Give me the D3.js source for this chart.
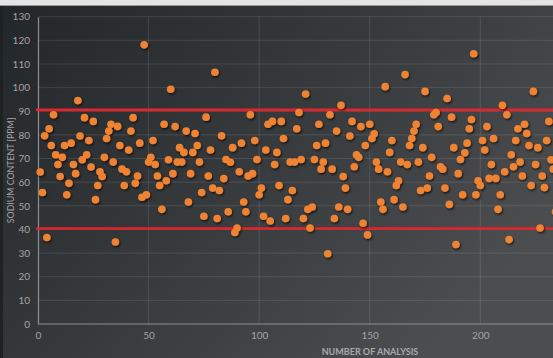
<!DOCTYPE html>
<html>
<head>
<meta charset="utf-8">
<script src="https://cdnjs.cloudflare.com/ajax/libs/d3/7.8.5/d3.min.js"></script>
<style>
  html, body { margin: 0; padding: 0; background: #2b2e31; }
  svg { display: block; }
</style>
</head>
<body>
<svg id="chart" width="553" height="358"></svg>
<script>
// Sodium content per analysis (ppm), analysis number = index + 1
const sodium = [
  64.3, 55.6, 79.6, 36.6, 82.6, 75.5, 88.5, 71.6, 67.5, 62.4,
  70.5, 75.5, 54.7, 59.5, 76.5, 67.5, 63.6, 94.5, 79.5, 69.5,
  87.3, 71.6, 77.6, 66.4, 85.7, 52.6, 58.6, 64.4, 62.4, 70.5,
  78.5, 81.6, 84.5, 68.5, 34.7, 83.6, 75.5, 65.5, 58.6, 64.4,
  73.6, 81.6, 87.3, 59.5, 62.6, 76.5, 53.6, 118.1, 54.7, 68.5,
  70.5, 77.6, 67.5, 62.6, 58.6, 48.5, 84.5, 60.6, 69.5, 99.3,
  63.6, 83.5, 68.5, 74.6, 68.5, 72.6, 81.6, 51.6, 63.6, 72.6,
  80.6, 75.5, 68.5, 55.6, 45.6, 87.5, 62.6, 73.6, 57.5, 106.5,
  44.6, 56.5, 79.6, 61.5, 69.6, 47.5, 68.4, 74.6, 38.7, 40.6,
  64.4, 76.5, 51.6, 47.5, 62.6, 88.5, 63.6, 77.6, 69.6, 54.7,
  57.5, 45.6, 73.6, 84.5, 43.6, 85.7, 67.5, 72.6, 58.6, 85.7,
  78.5, 44.6, 52.6, 68.5, 56.5, 68.5, 82.6, 89.5, 69.6, 44.6,
  97.3, 48.5, 40.6, 49.5, 69.6, 75.5, 84.5, 65.5, 68.5, 76.5,
  29.7, 88.5, 65.5, 44.6, 81.6, 49.5, 92.5, 62.4, 57.5, 48.5,
  79.5, 85.7, 66.5, 71.6, 70.5, 83.5, 42.6, 75.5, 37.7, 84.5,
  78.5, 80.5, 68.5, 65.5, 51.6, 48.5, 100.4, 64.4, 72.6, 77.6,
  52.6, 58.6, 60.6, 68.5, 49.5, 105.5, 67.5, 75.5, 78.5, 81.6,
  84.5, 68.5, 56.5, 74.6, 98.4, 57.5, 62.6, 70.5, 88.5, 89.5,
  83.5, 66.5, 65.5, 57.5, 95.4, 50.6, 87.5, 74.6, 33.6, 63.6,
  69.6, 54.7, 72.4, 76.5, 82.6, 86.5, 114.3, 54.7, 60.6, 58.6,
  77.6, 73.6, 83.5, 61.6, 67.5, 78.5, 61.6, 48.5, 54.7, 92.5,
  64.4, 88.5, 35.7, 71.6, 66.5, 77.6, 82.6, 68.5, 62.6, 84.5,
  80.6, 75.5, 58.6, 98.4, 67.5, 74.6, 40.6, 62.6, 57.7, 77.6,
  85.7, 69.5, 65.5, 47.5
];
const analysisNumbers = sodium.map((_, i) => i + 1);

// Control limits (ppm)
const limits = [90.6, 40.4];

const xTicks = [0, 50, 100, 150, 200];
const yTicks = [0, 10, 20, 30, 40, 50, 60, 70, 80, 90, 100, 110, 120, 130];

const W = 553, H = 358;
const plotLeft = 38, plotTop = 16.7, plotBottom = 324;

const x = d3.scaleLinear().domain([0, 250]).range([plotLeft, plotLeft + 250 * 2.2115]);
const y = d3.scaleLinear().domain([0, 130]).range([plotBottom, plotTop]);

const svg = d3.select("#chart");
const defs = svg.append("defs");

const bg = defs.append("linearGradient").attr("id", "bg")
  .attr("x1", "0%").attr("y1", "0%").attr("x2", "100%").attr("y2", "60%");
bg.append("stop").attr("offset", "0%").attr("stop-color", "#232629");
bg.append("stop").attr("offset", "55%").attr("stop-color", "#383b3e");
bg.append("stop").attr("offset", "100%").attr("stop-color", "#4b4d4f");

const shadow = defs.append("filter").attr("id", "dotShadow")
  .attr("x", "-60%").attr("y", "-60%").attr("width", "220%").attr("height", "220%");
shadow.append("feDropShadow").attr("dx", 1).attr("dy", 1.4)
  .attr("stdDeviation", 0.8).attr("flood-color", "#000").attr("flood-opacity", 0.75);

// Background
svg.append("rect").attr("width", W).attr("height", H).attr("fill", "url(#bg)");
svg.append("rect").attr("x", 0).attr("y", 0).attr("width", 3).attr("height", H).attr("fill", "#1f2224");
svg.append("rect").attr("x", 0).attr("y", 0).attr("width", W).attr("height", 5).attr("fill", "#e4e4e4");
svg.append("rect").attr("x", 0).attr("y", 5).attr("width", W).attr("height", 1).attr("fill", "#9a9a9a");

// Gridlines
const grid = svg.append("g");
grid.selectAll("line.h").data(yTicks.filter(t => t > 0)).join("line")
  .attr("x1", plotLeft).attr("x2", W + 10)
  .attr("y1", d => y(d)).attr("y2", d => y(d))
  .attr("stroke", "#ffffff").attr("stroke-opacity", 0.11).attr("stroke-width", 1);
grid.selectAll("line.v").data(xTicks.filter(t => t > 0)).join("line")
  .attr("x1", d => x(d)).attr("x2", d => x(d))
  .attr("y1", plotTop).attr("y2", plotBottom)
  .attr("stroke", "#ffffff").attr("stroke-opacity", 0.11).attr("stroke-width", 1);

// Axes
const xAxis = d3.axisBottom(x).tickValues(xTicks).tickSize(0).tickPadding(8);
const yAxis = d3.axisLeft(y).tickValues(yTicks).tickSize(0).tickPadding(8);

const gx = svg.append("g").attr("transform", `translate(0,${plotBottom})`).call(xAxis);
const gy = svg.append("g").attr("transform", `translate(${plotLeft},0)`).call(yAxis);

[gx, gy].forEach(g => {
  g.select(".domain").attr("stroke", "#8c8e90").attr("stroke-width", 1.2);
  g.selectAll("text").attr("fill", "#a2a4a6")
    .style("font-family", "Lato, 'Open Sans', sans-serif").style("font-size", "10px");
});
gx.select(".domain").attr("d", `M${plotLeft},0H${W + 10}`);

// Axis titles
svg.append("text")
  .attr("transform", `translate(12,${(plotTop + plotBottom) / 2}) rotate(-90)`)
  .attr("text-anchor", "middle").attr("dominant-baseline", "middle")
  .attr("fill", "#a2a4a6")
  .style("font-family", "Lato, 'Open Sans', sans-serif").style("font-size", "8.8px")
  .text("SODIUM CONTENT  [PPM]");

svg.append("text")
  .attr("x", 370).attr("y", 355)
  .attr("text-anchor", "middle")
  .attr("fill", "#a8aaac")
  .style("font-family", "Lato, 'Open Sans', sans-serif").style("font-size", "9px")
  .style("font-weight", "bold")
  .text("NUMBER OF ANALYSIS");

// Control limit lines
svg.append("g").selectAll("line").data(limits).join("line")
  .attr("x1", plotLeft - 2).attr("x2", W + 10)
  .attr("y1", d => y(d)).attr("y2", d => y(d))
  .attr("stroke", "#e3242b").attr("stroke-width", 2.6);

// Data points
svg.append("g").attr("filter", "url(#dotShadow)")
  .selectAll("circle").data(sodium).join("circle")
  .attr("cx", (d, i) => x(analysisNumbers[i]))
  .attr("cy", d => y(d))
  .attr("r", 3.8)
  .attr("fill", "#f08332");
</script>
</body>
</html>
